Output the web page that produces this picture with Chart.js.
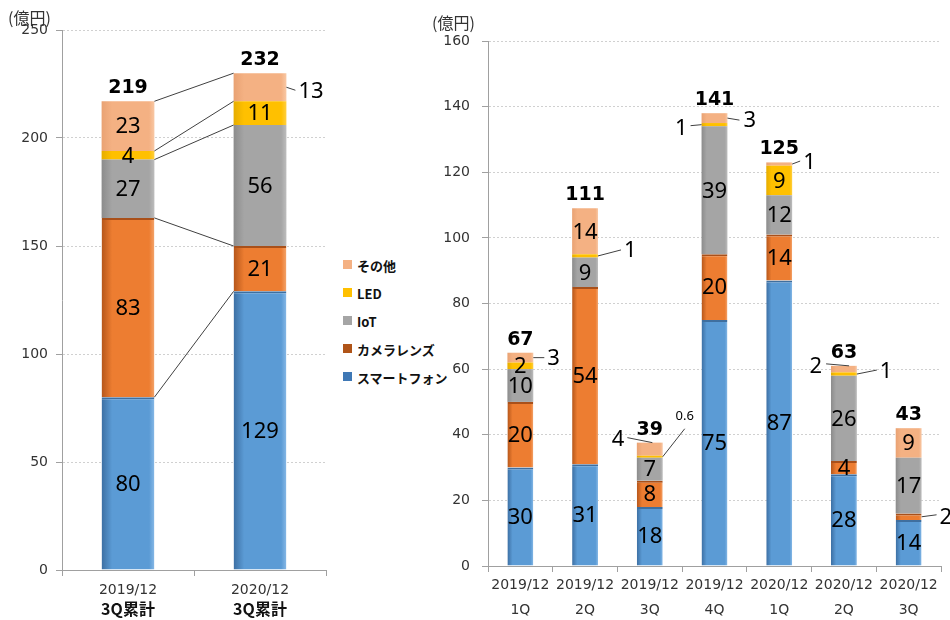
<!DOCTYPE html>
<html>
<head>
<meta charset="utf-8">
<script src="https://cdn.jsdelivr.net/npm/chart.js@4"></script>
<style>
  body { margin: 0; background: #fff; }
  #wrap { position: relative; width: 950px; height: 620px; overflow: hidden; }
  #boxLeft { position: absolute; left: 0; top: 0; }
  #boxRight { position: absolute; left: 420px; top: 0; }
  #legend { position: absolute; left: 343px; top: 256px; font: bold 13px "Noto Sans CJK JP", sans-serif; color: #111; }
  .item { height: 28px; display: flex; align-items: flex-start; }
  .sq { width: 9px; height: 9px; margin: 4px 5px 0 0; }
</style>
</head>
<body>
<div id="wrap">
  <div id="boxLeft"><canvas id="chartAcumulado" width="340" height="620"></canvas></div>
  <div id="legend"></div>
  <div id="boxRight"><canvas id="chartTrimestre" width="530" height="620"></canvas></div>
</div>
<script>
var unidade = "(億円)";
var series = ["スマートフォン", "カメラレンズ", "IoT", "LED", "その他"];

// grafico da esquerda (3Q累計)
var periodosEsq = ["2019/12", "2020/12"];
var subEsq = ["3Q累計", "3Q累計"];
var smartEsq = [80, 129];
var cameraEsq = [83, 21];
var iotEsq = [27, 56];
var ledEsq = [4, 11];
var outrosEsq = [23, 13];
var totaisEsq = [219, 232];
var ticksEsq = [0, 50, 100, 150, 200, 250];

// grafico da direita (trimestral)
var periodosDir = ["2019/12", "2019/12", "2019/12", "2019/12", "2020/12", "2020/12", "2020/12"];
var trimestres = ["1Q", "2Q", "3Q", "4Q", "1Q", "2Q", "3Q"];
var smartDir = [30, 31, 18, 75, 87, 28, 14];
var cameraDir = [20, 54, 8, 20, 14, 4, 2];
var iotDir = [10, 9, 7, 39, 12, 26, 17];
var ledDir = [2, 1, 0.6, 1, 9, 1, 0];
var outrosDir = [3, 14, 4, 3, 1, 2, 9];
var totaisDir = [67, 111, 39, 141, 125, 63, 43];
var ticksDir = [0, 20, 40, 60, 80, 100, 120, 140, 160];

var cores = [
  { base: "#5b9bd5", escuro: "#3c6fa3", claro: "#86b8e6", topo: "#3f6f9f", legenda: "#3f78b5" },
  { base: "#ed7d31", escuro: "#b5561a", claro: "#f3a46c", topo: "#a9501a", legenda: "#b05418" },
  { base: "#a5a5a5", escuro: "#8c8c8c", claro: "#bdbdbd", topo: "#a5a5a5", legenda: "#a5a5a5" },
  { base: "#ffc000", escuro: "#e6ad00", claro: "#ffcf40", topo: "#ffc000", legenda: "#ffc000" },
  { base: "#f4b183", escuro: "#e9a273", claro: "#f8c8a5", topo: "#f4b183", legenda: "#f4b183" }
];

// legenda em html
var legenda = document.getElementById("legend");
for (var k = series.length - 1; k >= 0; k--) {
  var div = document.createElement("div");
  div.className = "item";
  div.innerHTML = '<span class="sq" style="background:' + cores[k].legenda + '"></span>' + series[k];
  legenda.appendChild(div);
}

function sombra(cor) {
  return function (c) {
    var chart = c.chart;
    var xs = chart.scales.x;
    if (!xs || c.type !== "data") return cor.base;
    var cx = xs.getPixelForValue(c.dataIndex);
    var meia = (xs.width / chart.data.labels.length) * 0.2;
    if (!isFinite(cx) || !isFinite(meia) || meia <= 0) return cor.base;
    var g = chart.ctx.createLinearGradient(cx - meia, 0, cx + meia, 0);
    g.addColorStop(0, cor.escuro);
    g.addColorStop(0.2, cor.base);
    g.addColorStop(0.9, cor.base);
    g.addColorStop(1, cor.claro);
    return g;
  };
}

function montarDatasets(listas) {
  return listas.map(function (dados, d) {
    return {
      label: series[d],
      data: dados,
      backgroundColor: sombra(cores[d]),
      borderColor: cores[d].topo,
      borderWidth: { top: d < 2 ? 2 : 0, left: 0, right: 0, bottom: 0 },
      borderSkipped: false,
      categoryPercentage: 1,
      barPercentage: 0.4
    };
  });
}

var rotulos = {
  id: "rotulos",
  afterDatasetsDraw: function (chart, args, opts) {
    var ctx = chart.ctx;
    ctx.save();
    ctx.fillStyle = "#000";
    ctx.textBaseline = "middle";
    chart.data.datasets.forEach(function (ds, d) {
      var meta = chart.getDatasetMeta(d);
      meta.data.forEach(function (el, i) {
        var v = ds.data[i];
        if (!v) return;
        var call = opts.callouts.find(function (c) { return c.d === d && c.i === i; });
        if (call) {
          var ax = el.x + call.ax * el.width;
          var ay = el.base + (el.y - el.base) * call.ay;
          var lx = ax + call.lx, ly = ay + call.ly;
          ctx.strokeStyle = "#404040";
          ctx.lineWidth = 1;
          ctx.beginPath();
          ctx.moveTo(ax, ay);
          ctx.lineTo(lx, ly);
          ctx.stroke();
          ctx.font = (call.size || 22) + 'px "Noto Sans", sans-serif';
          ctx.textAlign = call.align || "left";
          ctx.fillText(String(v), lx + call.tx, ly + call.ty);
        } else {
          ctx.font = '22px "Noto Sans", sans-serif';
          ctx.textAlign = "center";
          ctx.fillText(String(v), el.x, (el.y + el.base) / 2 + 1);
        }
      });
    });
    // totais em negrito
    ctx.font = 'bold 19px "DejaVu Sans", sans-serif';
    ctx.textAlign = "center";
    opts.totais.forEach(function (t, i) {
      var topo = Infinity, x = 0;
      chart.data.datasets.forEach(function (ds, d) {
        var el = chart.getDatasetMeta(d).data[i];
        if (el.y < topo) topo = el.y;
        x = el.x;
      });
      ctx.fillText(String(t), x, topo - 13);
    });
    // unidade
    ctx.font = '16px "Noto Sans CJK JP", sans-serif';
    ctx.fillStyle = "#333";
    ctx.textAlign = "left";
    ctx.fillText(unidade, opts.unidadeX, opts.unidadeY);
    // segunda linha do eixo x
    if (opts.sub) {
      ctx.font = 'bold 16px "Noto Sans CJK JP", sans-serif';
      ctx.fillStyle = "#111";
      ctx.textAlign = "center";
      opts.sub.forEach(function (s, i) {
        ctx.fillText(s, chart.scales.x.getPixelForValue(i), opts.subY);
      });
    }
    ctx.restore();
  }
};

// linhas ligando as duas barras da esquerda
var ligacoes = {
  id: "ligacoes",
  afterDatasetsDraw: function (chart) {
    var ctx = chart.ctx;
    ctx.save();
    ctx.strokeStyle = "#404040";
    ctx.lineWidth = 1;
    chart.data.datasets.forEach(function (ds, d) {
      var m = chart.getDatasetMeta(d).data;
      ctx.beginPath();
      ctx.moveTo(m[0].x + m[0].width / 2, m[0].y);
      ctx.lineTo(m[1].x - m[1].width / 2, m[1].y);
      ctx.stroke();
    });
    ctx.restore();
  }
};

function escalas(ticksY, larguraY, alturaX, padY, lineH, padX) {
  return {
    x: {
      stacked: true,
      grid: { drawOnChartArea: false, drawTicks: true, tickLength: 6, color: "#a0a0a0" },
      border: { color: "#a0a0a0" },
      ticks: { color: "#333", font: { family: "DejaVu Sans", size: 14, lineHeight: lineH }, padding: padX, maxRotation: 0, autoSkip: false },
      afterFit: function (s) { s.height = alturaX; }
    },
    y: {
      stacked: true,
      min: 0,
      max: ticksY[ticksY.length - 1],
      afterBuildTicks: function (s) { s.ticks = ticksY.map(function (v) { return { value: v }; }); },
      grid: { color: "#d0d0d0", tickColor: "#a0a0a0", tickLength: 6, tickBorderDash: [] },
      border: { color: "#a0a0a0", dash: [2, 2] },
      ticks: { color: "#333", font: { family: "DejaVu Sans", size: 14 }, padding: padY },
      afterFit: function (s) { s.width = larguraY; }
    }
  };
}

const chartAcumulado = new Chart(document.getElementById("chartAcumulado"), {
  type: "bar",
  data: {
    labels: periodosEsq,
    datasets: montarDatasets([smartEsq, cameraEsq, iotEsq, ledEsq, outrosEsq])
  },
  options: {
    responsive: false,
    animation: false,
    layout: { padding: { top: 30, right: 14, left: 0, bottom: 0 } },
    plugins: {
      legend: { display: false },
      tooltip: { enabled: false },
      rotulos: {
        totais: totaisEsq,
        unidadeX: 8, unidadeY: 18,
        sub: subEsq, subY: 609,
        callouts: [{ d: 4, i: 1, ax: 0.5, ay: 0.5, lx: 9, ly: 3, tx: 3, ty: 1 }]
      }
    },
    scales: escalas(ticksEsq, 62, 50, 8, 1.4, 5)
  },
  plugins: [ligacoes, rotulos]
});

const chartTrimestre = new Chart(document.getElementById("chartTrimestre"), {
  type: "bar",
  data: {
    labels: periodosDir.map(function (p, i) { return [p, trimestres[i]]; }),
    datasets: montarDatasets([smartDir, cameraDir, iotDir, ledDir, outrosDir])
  },
  options: {
    responsive: false,
    animation: false,
    layout: { padding: { top: 41, right: 9, left: 0, bottom: 0 } },
    plugins: {
      legend: { display: false },
      tooltip: { enabled: false },
      rotulos: {
        totais: totaisDir,
        unidadeX: 12, unidadeY: 23,
        callouts: [
          { d: 4, i: 0, ax: 0.5, ay: 0.5, lx: 11, ly: 0, tx: 3, ty: 1 },
          { d: 3, i: 1, ax: 0.5, ay: 0.5, lx: 23, ly: -6, tx: 3, ty: 1 },
          { d: 4, i: 2, ax: 0.1, ay: 1, lx: -25, ly: -5, tx: -3, ty: 2, align: "right" },
          { d: 3, i: 2, ax: 0.5, ay: 0.5, lx: 22, ly: -28, tx: 0, ty: -12, align: "center", size: 13 },
          { d: 3, i: 3, ax: -0.5, ay: 0.5, lx: -11, ly: 1, tx: -3, ty: 3, align: "right" },
          { d: 4, i: 3, ax: 0.5, ay: 0.5, lx: 12, ly: 2, tx: 4, ty: 1 },
          { d: 4, i: 4, ax: 0.5, ay: 0.5, lx: 8, ly: -3, tx: 3, ty: 2 },
          { d: 4, i: 5, ax: 0.2, ay: 1, lx: -23, ly: -2, tx: -4, ty: 3, align: "right" },
          { d: 3, i: 5, ax: 0.5, ay: 0.5, lx: 20, ly: -4, tx: 3, ty: 2 },
          { d: 1, i: 6, ax: 0.5, ay: 0.5, lx: 15, ly: -2, tx: 3, ty: 3 }
        ]
      }
    },
    scales: escalas(ticksDir, 68, 54, 12, 25 / 14, 1)
  },
  plugins: [rotulos]
});
</script>
</body>
</html>
